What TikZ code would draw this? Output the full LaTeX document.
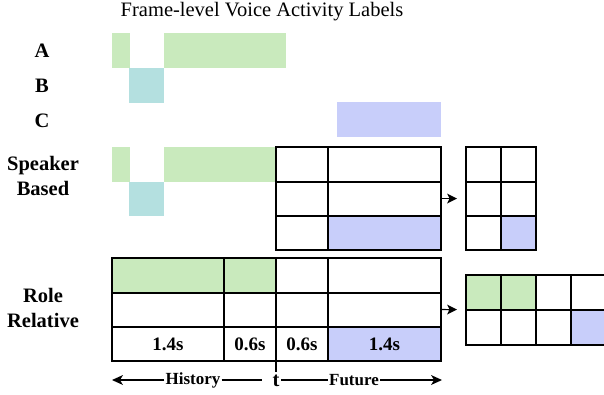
\documentclass[tikz,border=0pt]{standalone}
\usepackage{fontspec}
\setmainfont{Liberation Serif}
\usetikzlibrary{arrows.meta}
\definecolor{vgreen}{RGB}{201,234,189}
\definecolor{vcyan}{RGB}{180,224,224}
\definecolor{vblue}{RGB}{200,206,250}
\begin{document}
\begin{tikzpicture}[x=1pt,y=-1pt,
  cell/.style={draw=black,line width=1.3pt},
  lbl/.style={font=\fontsize{20.5}{25}\selectfont\bfseries,align=center,inner sep=0pt},
  val/.style={font=\fontsize{19}{22}\selectfont\bfseries,inner sep=0pt},
  axis/.style={font=\fontsize{17}{20}\selectfont\bfseries,inner sep=1pt},
  arr/.style={line width=1.2pt},
  tip/.style={fill=black,draw=none},
  frame/.style={inner sep=0pt,draw=none}]
\useasboundingbox (0,0) rectangle (604,394);

% title
\node[font=\fontsize{20.5}{22}\selectfont,inner sep=0pt] (title) at (262,12) {Frame-level Voice Activity Labels};

% row labels
\node[lbl] (la) at (42,51) {A};
\node[lbl] (lb) at (42,86) {B};
\node[lbl] (lc) at (42,121) {C};
\node[lbl] (lspk) at (43,176) {Speaker\\Based};
\node[lbl] (lrole) at (43,308) {Role\\Relative};

% frame-level labels
\fill[vgreen] (112,33) rectangle (130,68);
\fill[vgreen] (164,33) rectangle (286,68);
\fill[vcyan] (129,68) rectangle (164,103);
\fill[vblue] (337,102) rectangle (441,137);

% speaker based
\fill[vgreen] (112,147) rectangle (130,182);
\fill[vgreen] (164,147) rectangle (276,182);
\fill[vcyan] (129,182) rectangle (164,216);
\fill[vblue] (328,216) rectangle (441,250);
\node[frame,minimum width=165pt,minimum height=103pt] (spkgrid) at (358.5,198.5) {};
\draw[cell] (276,147) rectangle (441,250);
\draw[cell] (276,182) -- (441,182) (276,216) -- (441,216) (328,147) -- (328,250);

% speaker small grid
\fill[vblue] (501,216) rectangle (536,250);
\node[frame,minimum width=70pt,minimum height=103pt] (spksmall) at (501,198.5) {};
\draw[cell] (466,147) rectangle (536,250);
\draw[cell] (466,182) -- (536,182) (466,216) -- (536,216) (501,147) -- (501,250);

\draw[arr,shorten >=12pt] (spkgrid.east) -- (spksmall.west);
\fill[tip] (457,198.5) -- (447,193.5) -- (449.5,198.5) -- (447,203.5) -- cycle;

% role relative
\fill[vgreen] (112,258) rectangle (276,293);
\fill[vblue] (328,327) rectangle (441,361);
\node[frame,minimum width=329pt,minimum height=103pt] (rolegrid) at (276.5,309.5) {};
\draw[cell] (112,258) rectangle (441,361);
\draw[cell] (112,293) -- (441,293) (112,327) -- (441,327);
\draw[cell] (224,258) -- (224,361) (276,258) -- (276,361) (328,258) -- (328,361);
\node[val] (v1) at (168,344) {1.4s};
\node[val] (v2) at (250,344) {0.6s};
\node[val] (v3) at (302,344) {0.6s};
\node[val] (v4) at (384.5,344) {1.4s};

% role small grid
\fill[vgreen] (466,275) rectangle (536,310);
\fill[vblue] (571,310) rectangle (606,345);
\node[frame,minimum width=140pt,minimum height=70pt] (rolesmall) at (536,310) {};
\draw[cell] (466,275) rectangle (606,345);
\draw[cell] (466,310) -- (606,310) (501,275) -- (501,345) (536,275) -- (536,345) (571,275) -- (571,345);

\draw[arr,shorten >=12pt] (rolegrid.east) -- (rolesmall.west);
\fill[tip] (457,309.5) -- (447,304.5) -- (449.5,309.5) -- (447,314.5) -- cycle;

% time axis
\coordinate (tl) at (112,380);
\coordinate (tr) at (442,380);
\node[axis] (hist) at (193,380) {History};
\node[axis] (fut) at (354,380) {Future};
\node[font=\fontsize{20.5}{22}\selectfont\bfseries,inner sep=0pt] (tnow) at (276,381) {t};
\coordinate (tick) at (276,372);
\draw[cell] (276,361) -- (tick);
\draw[arr,shorten >=6pt] (hist.west) -- (tl);
\fill[tip] (112,380) -- (123,375) -- (120,380) -- (123,385) -- cycle;
\draw[line width=1.2pt] (hist.east) -- (262,380);
\draw[line width=1.2pt] (281,380) -- (fut.west);
\draw[arr,shorten >=6pt] (fut.east) -- (tr);
\fill[tip] (442,380) -- (431,375) -- (434,380) -- (431,385) -- cycle;
\end{tikzpicture}
\end{document}
